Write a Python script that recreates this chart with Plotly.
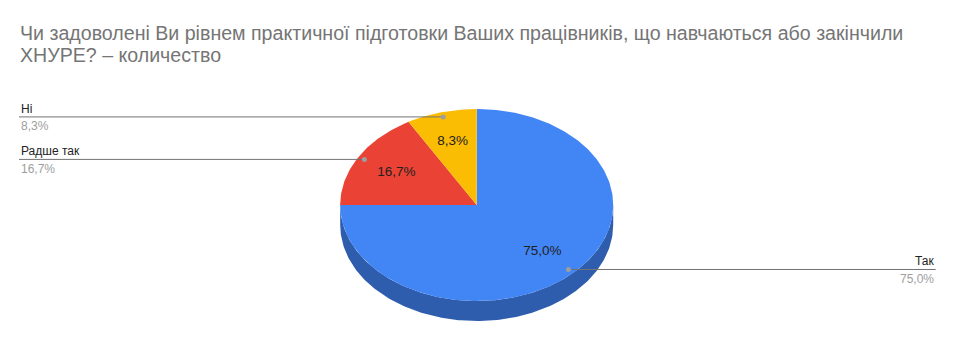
import numpy as np
import plotly.graph_objects as go

categories = ["Так", "Радше так", "Ні"]
counts = [9, 2, 1]
colors = ["#4285F4", "#EA4335", "#FBBC04"]
side_color = "#2F5DAE"
title_lines = [
    "Чи задоволені Ви рівнем практичної підготовки Ваших працівників, що навчаються або закінчили",
    "ХНУРЕ? – количество",
]

W, H = 954, 337
cx, cy, rx, ry, depth = 476.7, 205.0, 136.5, 96.0, 20.0
FONT = "Liberation Sans, Arial, sans-serif"

total = sum(counts)
fracs = [c / total for c in counts]
pcts = [f"{f * 100:.1f}".replace(".", ",") + "%" for f in fracs]


def pt(theta, f=1.0, dy=0.0):
    return cx + f * rx * np.sin(theta), cy - f * ry * np.cos(theta) + dy


fig = go.Figure()

# 3D side (front half of the disc)
t_low = np.linspace(np.pi / 2, 3 * np.pi / 2, 200)
xb, yb = pt(t_low, 1.0, depth)
xt, yt = pt(t_low[::-1], 1.0, 0.0)
fig.add_trace(go.Scatter(
    x=np.concatenate([xb, xt]), y=np.concatenate([yb, yt]),
    fill="toself", fillcolor=side_color, mode="lines", line=dict(width=0),
    hoverinfo="skip", showlegend=False))

# slices (clockwise from 12 o'clock)
start = 0.0
mids = []
for cat, f, col in zip(categories, fracs, colors):
    a0, a1 = start, start + f * 2 * np.pi
    t = np.linspace(a0, a1, max(int(f * 400), 10))
    xs, ys = pt(t)
    fig.add_trace(go.Scatter(
        x=np.concatenate([[cx], xs, [cx]]), y=np.concatenate([[cy], ys, [cy]]),
        fill="toself", fillcolor=col, mode="lines", line=dict(width=0),
        hoverinfo="skip", showlegend=False))
    mids.append((a0 + a1) / 2)
    start = a1

# inner percent labels
lx, ly = zip(*[pt(m, 0.68) for m in mids])
fig.add_trace(go.Scatter(
    x=lx, y=ly, mode="text", text=pcts,
    textfont=dict(family=FONT, size=13.5, color="#212121"),
    hoverinfo="skip", showlegend=False))

# leader lines, dots and outside labels
annotations = []
left_x, right_x = 19.0, 935.7
for cat, p, m in zip(categories, pcts, mids):
    dx, dy = pt(m, 0.95)
    right = np.sin(m) > 0
    x_end = right_x if right else left_x
    fig.add_trace(go.Scatter(
        x=[dx, x_end], y=[dy, dy], mode="lines",
        line=dict(color="#737373", width=1), hoverinfo="skip", showlegend=False))
    fig.add_trace(go.Scatter(
        x=[dx], y=[dy], mode="markers",
        marker=dict(color="#9E9E9E", size=5), hoverinfo="skip", showlegend=False))
    xa = "right" if right else "left"
    annotations.append(dict(x=x_end, y=dy + 1.0, xref="x", yref="y", text=cat,
                            showarrow=False, xanchor=xa, yanchor="bottom",
                            font=dict(family=FONT, size=12, color="#222222")))
    annotations.append(dict(x=x_end, y=dy + 0.5, xref="x", yref="y", text=p,
                            showarrow=False, xanchor=xa, yanchor="top",
                            font=dict(family=FONT, size=12, color="#9E9E9E")))

for i, line in enumerate(title_lines):
    annotations.append(dict(x=18, y=32.5 + 22.5 * i, xref="x", yref="y", text=line,
                            showarrow=False, xanchor="left", yanchor="middle",
                            font=dict(family=FONT, size=19.6, color="#757575")))

fig.update_layout(
    width=W, height=H, margin=dict(l=0, r=0, t=0, b=0),
    paper_bgcolor="white", plot_bgcolor="white",
    xaxis=dict(range=[0, W], visible=False, fixedrange=True),
    yaxis=dict(range=[H, 0], visible=False, fixedrange=True),
    annotations=annotations, showlegend=False,
)

fig.write_html("out.html")
